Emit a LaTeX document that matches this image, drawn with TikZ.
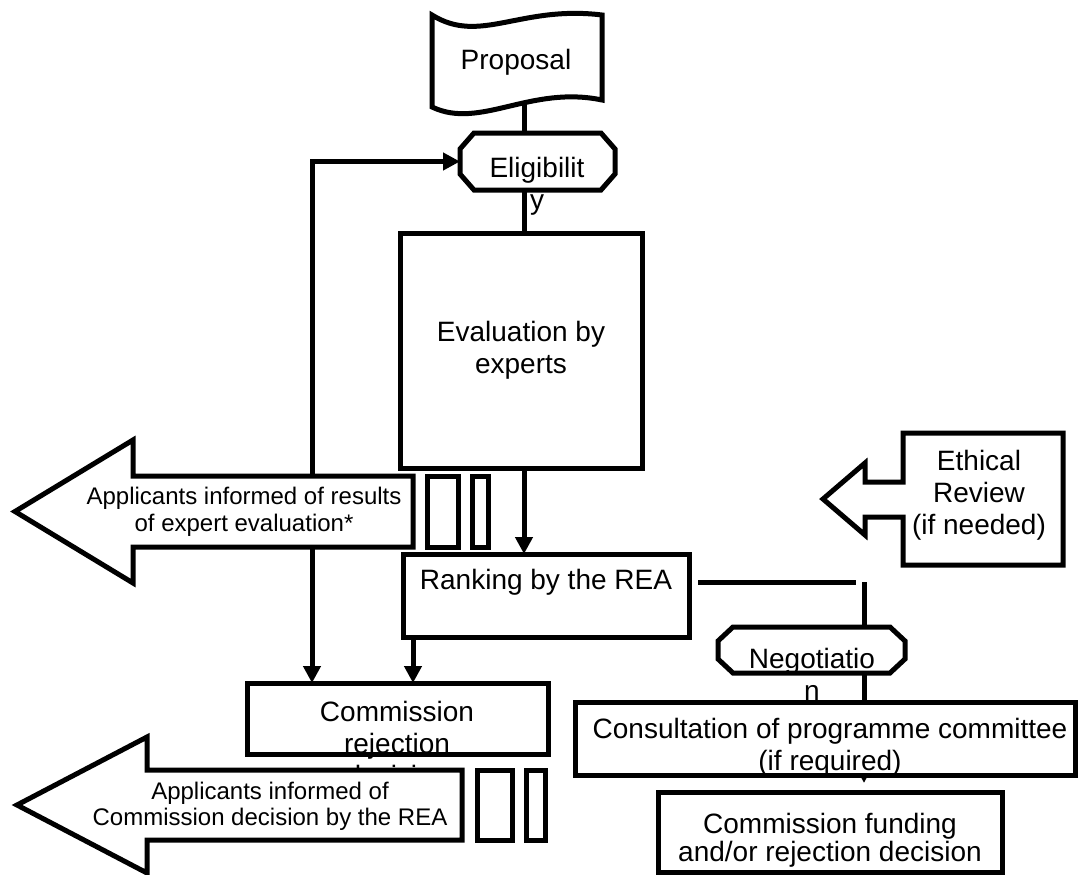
\documentclass[tikz,border=0pt]{standalone}
\usepackage{fontspec}
\setmainfont{Liberation Sans}
\usetikzlibrary{arrows.meta, backgrounds, positioning, calc}

\begin{document}
\begin{tikzpicture}[x=1pt,y=-1pt,
  box/.style={draw, line width=5pt, fill=white, inner sep=0pt, outer sep=0pt, align=center, font=\fontsize{28}{32}\selectfont},
  anchorbox/.style={inner sep=0pt, outer sep=0pt},
  txt/.style={inner sep=0pt, align=center, font=\fontsize{28}{32}\selectfont},
  small/.style={inner sep=0pt, align=center, font=\fontsize{24}{27.5}\selectfont},
  outline/.style={draw, line width=5pt, fill=white, line join=miter},
  link/.style={line width=5pt},
  arr/.style={link, -{Triangle[length=17pt,width=17pt]}}]
\useasboundingbox (0,0) rectangle (1080,875);

\coordinate (spine) at (524,0);
\coordinate (loop) at (312,0);
\coordinate (drop) at (413,0);
\coordinate (bend) at (864,582);
\coordinate (tipfund) at (864,783);

% proposal flag
\draw[outline] (432,15) .. controls (480,45) and (520,5) .. (602,15) -- (602,100) .. controls (530,85) and (480,130) .. (432,107) -- cycle;
\node[txt] (prop) at (516,62) {Proposal};

% eligibility octagon
\node[anchorbox, minimum width=155pt, minimum height=57pt] (elig) at (537.5,161.5) {};
\draw[outline] (474,133) -- (601,133) -- (615,149) -- (615,174) -- (601,190) -- (474,190) -- (460,174) -- (460,149) -- cycle;
\node[txt] (eligtxt) at (537,186) {Eligibilit\\y};

\node[box, minimum width=242pt, minimum height=235pt] (eval) at (521,350.5) {Evaluation by\\experts};
\node[box, minimum width=286pt, minimum height=83pt] (rank) at (546,595.5) {Ranking by the REA\\\mbox{}};

\node[box, minimum width=301pt, minimum height=71pt] (rej) at (397.5,718.5) {};
\node[txt] (rejtxt) at (397,743) {Commission\\rejection\\decision};

% ethical review callout
\draw[outline] (903,433) -- (1063,433) -- (1063,565) -- (903,565) -- (903,517) -- (865,517) -- (865,535) -- (823,499) -- (865,463) -- (865,482) -- (903,482) -- cycle;
\node[txt] (ethic) at (979,495) {Ethical\\Review\\(if needed)};

% negotiation octagon
\node[anchorbox, minimum width=187pt, minimum height=46pt] (nego) at (811.5,650) {};
\draw[outline] (733,627) -- (890,627) -- (905,641) -- (905,659) -- (890,673) -- (733,673) -- (718,659) -- (718,641) -- cycle;
\node[txt] (negotxt) at (812,674) {Negotiatio\\n};

\node[box, minimum width=500pt, minimum height=73pt] (consult) at (825,738.5) {};
\node[txt] (consulttxt) at (830,747.5) {Consultation of programme committee\\(if required)};

\node[box, minimum width=344pt, minimum height=80pt] (fund) at (830,832) {};
\node[txt, font=\fontsize{28}{28}\selectfont] (fundtxt) at (830,840) {Commission funding\\and/or rejection decision};

% striped arrows
\draw[outline] (413,476) -- (413,547) -- (133,547) -- (133,583) -- (15,511.5) -- (133,440) -- (133,476) -- cycle;
\draw[outline] (427,476) rectangle (458,547);
\draw[outline] (472,476) rectangle (488,547);
\node[small] (appl1) at (244,512) {Applicants informed of results\\of expert evaluation*};

\draw[outline] (462,770) -- (462,840) -- (147,840) -- (147,873) -- (17,805) -- (147,737) -- (147,770) -- cycle;
\draw[outline] (477,770) rectangle (512,840);
\draw[outline] (526,770) rectangle (545,840);
\node[small, font=\fontsize{24}{26}\selectfont] (appl2) at (270,806) {Applicants informed of\\Commission decision by the REA};

\begin{scope}[on background layer]
\draw[link] (prop.center -| spine) -- (elig.center -| spine);
\draw[link] (elig.center -| spine) -- (eval.north -| spine);
\draw[arr] (appl1 -| loop) |- (elig.west);
\draw[arr] (appl1 -| loop) -- (rej.north -| loop);
\draw[arr] (nego.center -| bend) -- (tipfund);
\end{scope}

\draw[arr] (eval.south -| spine) -- (rank.north -| spine);
\draw[arr] (rank.south -| drop) -- (rej.north -| drop);
\draw[link, shorten <=9pt, shorten >=8pt] (rank.east |- bend) -- (bend);
\draw[link] (bend) -- (nego.north -| bend);
%\draw[step=10,color=gray!50!white] (0,0) grid (1080,875);
\end{tikzpicture}
\end{document}
